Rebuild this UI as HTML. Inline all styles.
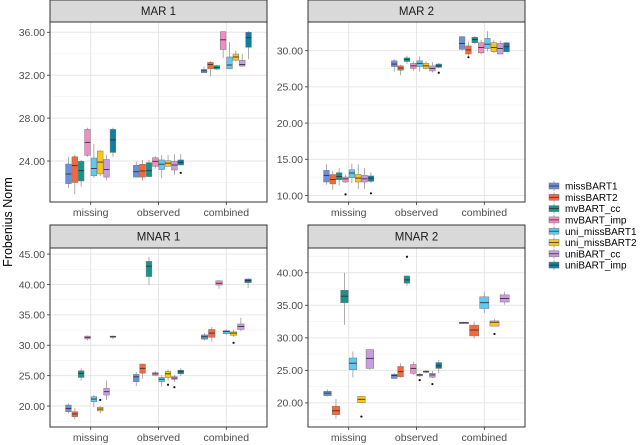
<!DOCTYPE html>
<html><head><meta charset="utf-8">
<style>
html,body{margin:0;padding:0;background:#fff;}
svg{display:block;font-family:"Liberation Sans",sans-serif;}
</style></head>
<body>
<svg id="chart" width="640" height="445" viewBox="0 0 640 445"></svg>
<script>
const seriesNames = ["missBART1","missBART2","mvBART_cc","mvBART_imp","uni_missBART1","uni_missBART2","uniBART_cc","uniBART_imp"];
const seriesColors = ["#6c8fdb","#f4693a","#17948a","#f28cc4","#5ec9f2","#f7c81c","#c99ce2","#0e7fa3"];
const categories = ["missing","observed","combined"];
const panelTitles = ["MAR 1","MAR 2","MNAR 1","MNAR 2"];
const panelTicks = [[24,28,32,36],[10,15,20,25,30],[20,25,30,35,40,45],[20,25,30,35,40]];
// stats per box: [min, q1, median, q3, max], null = absent
const mar1Missing = [[21.5,21.89,22.79,23.72,24.4],[20.9,22.0,23.57,24.4,24.6],[21.6,22.14,23.1,23.97,24.1],[24.4,24.53,25.74,26.95,27.1],[22.45,22.63,23.3,24.28,25.6],[22.6,22.8,23.9,24.93,25.0],[22.2,22.5,23.2,24.15,24.6],[24.4,24.8,25.96,26.95,27.1]];
const mar1Observed = [[22.5,22.5,23.0,23.6,23.95],[22.2,22.5,23.07,23.7,24.1],[22.5,22.55,23.1,23.85,24.1],[23.3,23.5,23.97,24.3,24.45],[22.4,23.2,23.7,24.1,24.55],[23.5,23.5,23.8,24.03,24.55],[22.7,23.16,23.63,23.97,24.65],[23.6,23.63,23.88,24.1,24.65]];
const mar1Combined = [[32.2,32.23,32.41,32.54,32.8],[31.9,32.6,33.0,33.2,33.3],[32.5,32.57,32.72,32.9,32.95],[33.6,34.4,35.3,36.06,36.1],[32.55,32.6,32.95,33.7,35.1],[33.3,33.4,33.7,33.97,34.3],[32.8,32.85,33.0,33.4,34.0],[33.5,34.6,35.5,36.0,36.1]];
const mar2Missing = [[11.5,11.86,12.78,13.47,14.3],[10.8,11.6,12.2,12.9,13.4],[11.4,12.18,12.64,13.15,13.8],[11.7,11.86,12.3,12.55,12.9],[11.7,12.46,13.1,13.56,14.4],[10.9,11.86,12.4,12.9,14.3],[10.9,11.86,12.3,12.78,13.8],[11.7,11.95,12.4,12.7,13.2]];
const mar2Observed = [[27.1,27.8,28.15,28.6,28.8],[26.6,27.3,27.6,27.9,28.05],[28.2,28.5,28.8,29.0,29.3],[27.2,27.55,27.9,28.25,28.55],[27.1,27.8,28.25,28.6,29.2],[27.4,27.55,27.9,28.25,28.5],[27.0,27.2,27.55,27.9,28.4],[27.6,27.7,27.9,28.15,28.3]];
const mar2Combined = [[30.0,30.18,31.0,31.94,32.0],[29.3,29.54,30.1,30.65,31.2],[30.9,31.1,31.55,31.85,32.0],[29.5,29.7,30.45,31.1,31.5],[29.9,30.3,30.9,31.7,32.7],[29.7,29.86,30.45,31.1,31.5],[29.5,29.54,30.3,31.0,31.4],[29.8,29.86,30.55,31.1,31.2]];
const mnar1Missing = [[18.8,19.07,19.6,20.16,20.4],[17.8,18.24,18.7,19.07,19.7],[24.2,24.7,25.38,25.8,26.2],[30.8,31.04,31.3,31.5,31.6],[19.8,20.7,21.15,21.54,21.8],[18.8,19.2,19.5,19.8,20.0],[21.0,21.8,22.36,22.9,24.2],[31.0,31.3,31.4,31.5,31.6]];
const mnar1Observed = [[23.3,24.0,24.8,25.2,25.6],[24.5,25.4,26.2,26.9,27.0],[39.9,41.3,43.0,43.8,44.5],[24.9,25.05,25.3,25.5,25.8],[23.2,24.0,24.4,24.7,25.1],[24.2,24.7,25.3,25.7,26.0],[24.0,24.4,24.6,24.85,25.1],[24.9,25.3,25.65,25.9,26.2]];
const mnar1Combined = [[30.8,31.0,31.4,31.7,32.0],[30.6,31.3,32.0,32.6,33.0],null,[39.3,39.9,40.2,40.6,40.7],[31.7,31.9,32.25,32.4,32.6],[31.4,31.65,32.0,32.2,32.6],[32.3,32.6,33.1,33.5,34.5],[39.4,40.3,40.65,40.9,41.0]];
const mnar2Missing = [[21.0,21.1,21.5,21.8,22.1],[17.6,18.2,18.8,19.5,20.6],[32.0,35.4,36.4,37.3,40.0],null,[23.9,25.1,26.1,26.9,27.9],[20.05,20.05,20.55,21.0,21.0],[25.1,25.3,26.85,28.2,28.2],null];
const mnar2Observed = [[23.75,23.75,24.2,24.4,24.6],[23.9,24.0,24.8,25.6,26.1],[38.0,38.4,38.9,39.5,39.6],[24.3,24.55,25.3,25.9,26.35],[24.0,24.15,24.3,24.4,24.6],[24.6,24.7,24.8,24.9,25.05],[23.8,23.95,24.3,24.55,24.9],[24.6,25.3,25.7,26.2,26.6]];
const mnar2Combined = [[32.2,32.2,32.3,32.4,32.4],[29.9,30.3,31.2,31.95,32.5],null,null,[33.8,34.5,35.4,36.3,37.0],[31.8,31.8,32.4,32.6,32.9],[35.1,35.5,36.05,36.6,37.1],null];
// outliers: [panel, category, series, value]
const outliers = [[0,1,7,22.9],[1,0,3,10.15],[1,0,7,10.3],[1,2,1,29.1],[1,1,7,26.95],[2,0,5,21.0],[2,1,5,23.5],[2,1,6,23.1],[2,2,5,30.4],[3,0,5,17.9],[3,1,2,42.45],[3,1,4,23.5],[3,1,6,22.9],[3,2,5,30.6]];

const panelData = [[mar1Missing,mar1Observed,mar1Combined],[mar2Missing,mar2Observed,mar2Combined],[mnar1Missing,mnar1Observed,mnar1Combined],[mnar2Missing,mnar2Observed,mnar2Combined]];
const panelRange = [[20.18,36.96],[9.1,33.96],[16.55,46.0],[16.3,43.8]];

const svg = document.getElementById('chart');
const NS = 'http://www.w3.org/2000/svg';
function mk(tag, attrs, parent){const e=document.createElementNS(NS,tag);for(const k in attrs)e.setAttribute(k,attrs[k]);(parent||svg).appendChild(e);return e;}

const geo = [{x0:50,x1:267,sy:0,y0:22,y1:202},{x0:308,x1:525,sy:0,y0:22,y1:202},{x0:50,x1:267,sy:225,y0:248,y1:427},{x0:308,x1:525,sy:225,y0:248,y1:427}];

geo.forEach((g,p)=>{
  const grp = mk('g',{});
  
  
  const [lo,hi]=panelRange[p];
  const yS = v => g.y1 - (v-lo)/(hi-lo)*(g.y1-g.y0);
  const unit = (g.x1-g.x0)/3.2;
  const xS = c => g.x0 + (c+0.6)*unit;
  mk('rect',{x:g.x0,y:g.y0,width:g.x1-g.x0,height:g.y1-g.y0,fill:'#fff'},grp);
  const ticks=panelTicks[p]; const step=ticks[1]-ticks[0];
  for(let v=ticks[0]-step/2; v<=hi; v+=step){ if(v<lo) continue;
    mk('line',{x1:g.x0,x2:g.x1,y1:yS(v),y2:yS(v),stroke:'#f2f2f2','stroke-width':0.6},grp);}
  ticks.forEach(v=>{
    mk('line',{x1:g.x0,x2:g.x1,y1:yS(v),y2:yS(v),stroke:'#e6e6e6','stroke-width':1},grp);
    mk('line',{x1:g.x0-3,x2:g.x0,y1:yS(v),y2:yS(v),stroke:'#333','stroke-width':0.8},grp);
    const t=mk('text',{x:g.x0-5,y:yS(v)+3.8,'text-anchor':'end','font-size':'10.5',fill:'#4d4d4d'},grp);
    
    
    t.textContent=v.toFixed(2);
  });
  categories.forEach((c,ci)=>{
    mk('line',{x1:xS(ci),x2:xS(ci),y1:g.y0,y2:g.y1,stroke:'#e6e6e6','stroke-width':1},grp);
    mk('line',{x1:xS(ci),x2:xS(ci),y1:g.y1,y2:g.y1+3,stroke:'#333','stroke-width':0.8},grp);
    const t=mk('text',{x:xS(ci),y:g.y1+14,'text-anchor':'middle','font-size':'10.5',fill:'#4d4d4d'},grp);
    
    
    t.textContent=c;
  });
  panelData[p].forEach((arr,ci)=>{
    const present = arr.map((s,i)=>s?i:-1).filter(i=>i>=0);
    const n=present.length, total=0.75*unit, w=total/n;
    present.forEach((si,k)=>{
      const s=arr[si]; const cx=xS(ci)-total/2+w*(k+0.5);
      const b=mk('g',{},grp);
      
      
      mk('line',{x1:cx,x2:cx,y1:yS(s[0]),y2:yS(s[4]),stroke:'#999','stroke-width':0.8},b);
      mk('rect',{x:cx-w*0.45,y:yS(s[3]),width:w*0.9,height:Math.max(0.8,yS(s[1])-yS(s[3])),fill:seriesColors[si],stroke:'#777','stroke-width':0.5},b);
      mk('line',{x1:cx-w*0.45,x2:cx+w*0.45,y1:yS(s[2]),y2:yS(s[2]),stroke:'#333','stroke-width':0.9},b);
    });
  });
  outliers.filter(o=>o[0]===p).forEach(o=>{
    const arr=panelData[p][o[1]]; const present=arr.map((s,i)=>s?i:-1).filter(i=>i>=0);
    const k=present.indexOf(o[2]); const total=0.75*unit, w=total/present.length;
    const cx=xS(o[1])-total/2+w*(k+0.5);
    const d=mk('circle',{cx:cx,cy:yS(o[3]),r:1.1,fill:'#111'},grp);
    
    
  });
  mk('rect',{x:g.x0,y:g.y0,width:g.x1-g.x0,height:g.y1-g.y0,fill:'none',stroke:'#333','stroke-width':1},grp);
  const st=mk('rect',{x:g.x0,y:g.sy,width:g.x1-g.x0,height:g.y0-g.sy,fill:'#d9d9d9',stroke:'#333','stroke-width':1},grp);
  
  
  const tt=mk('text',{x:(g.x0+g.x1)/2,y:(g.sy+g.y0)/2+4,'text-anchor':'middle','font-size':'11.5',fill:'#1a1a1a'},grp);
  
  
  tt.textContent=panelTitles[p];
});

const yt=mk('text',{x:0,y:0,transform:'translate(12,222) rotate(-90)','text-anchor':'middle','font-size':'12.5',fill:'#000'});


yt.textContent='Frobenius Norm';

const leg=mk('g',{});


seriesNames.forEach((nm,i)=>{
  const y=186+i*11.3;
  const e=mk('g',{},leg);
  
  
  mk('line',{x1:554,x2:554,y1:y-5,y2:y+5,stroke:'#999','stroke-width':0.8},e);
  mk('rect',{x:549,y:y-3,width:10,height:6,fill:seriesColors[i],stroke:'#777','stroke-width':0.5},e);
  mk('line',{x1:549,x2:559,y1:y,y2:y,stroke:'#333','stroke-width':0.8},e);
  const t=mk('text',{x:565,y:y+3.6,'font-size':'10',fill:'#000'},e);
  t.textContent=nm;
});
</script>
</body></html>
